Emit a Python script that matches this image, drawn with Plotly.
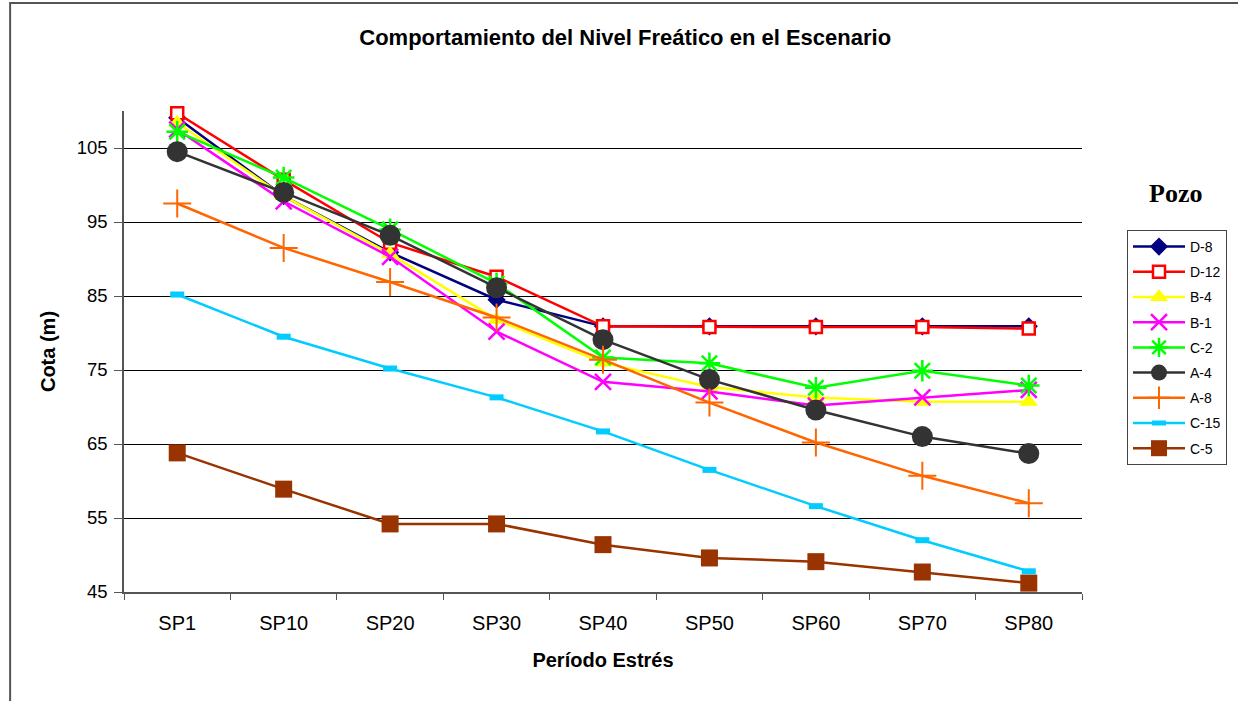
import plotly.graph_objects as go

periods = ["SP1", "SP10", "SP20", "SP30", "SP40", "SP50", "SP60", "SP70", "SP80"]

d8 = [109.1, 98.5, 90.9, 84.5, 80.9, 80.9, 80.9, 80.9, 80.9]
d12 = [109.7, 100.7, 92.2, 87.6, 80.9, 80.8, 80.8, 80.8, 80.6]
b4 = [108.4, 98.5, 90.7, 81.8, 76.0, 72.7, 71.3, 70.7, 70.7]
b1 = [107.5, 97.8, 90.3, 80.2, 73.4, 72.1, 70.2, 71.3, 72.3]
c2 = [107.2, 101.0, 94.0, 86.7, 76.7, 75.9, 72.6, 74.9, 72.9]
a4 = [104.5, 99.0, 93.2, 86.1, 79.1, 73.7, 69.6, 66.0, 63.7]
a8 = [97.5, 91.5, 86.9, 82.1, 76.4, 70.6, 65.2, 60.7, 57.0]
c15 = [85.2, 79.5, 75.2, 71.3, 66.7, 61.5, 56.6, 52.0, 47.8]
c5 = [63.8, 58.9, 54.2, 54.2, 51.4, 49.6, 49.1, 47.7, 46.2]

yticks = [45, 55, 65, 75, 85, 95, 105]

series = [
    ("D-8", d8, "#000080", dict(symbol="diamond", size=14, color="#000080")),
    ("D-12", d12, "#FF0000", dict(symbol="square", size=12, color="white",
                                  line=dict(color="#FF0000", width=2.5))),
    ("B-4", b4, "#FFFF00", dict(symbol="triangle-up", size=16, color="#FFFF00")),
    ("B-1", b1, "#FF00FF", dict(symbol="x-thin-open", size=16,
                                line=dict(color="#FF00FF", width=2.5))),
    ("C-2", c2, "#00FF00", dict(symbol="asterisk-open", size=18,
                                line=dict(color="#00FF00", width=2.5))),
    ("A-4", a4, "#333333", dict(symbol="circle", size=21, color="#333333")),
    ("A-8", a8, "#FF6600", dict(symbol="cross-thin-open", size=20,
                                line=dict(color="#FF6600", width=2))),
    ("C-15", c15, "#00CCFF", dict(symbol="line-ew-open", size=10,
                                  line=dict(color="#00CCFF", width=6))),
    ("C-5", c5, "#993300", dict(symbol="square", size=17, color="#993300")),
]

fig = go.Figure()
for name, vals, col, mk in series:
    fig.add_trace(go.Scatter(
        x=periods, y=vals, name=name, mode="lines+markers",
        line=dict(color=col, width=2.5), marker=mk, legendgroup=name,
        cliponaxis=False,
    ))

W, H = 1238, 701
L, R, T, B = 124, 155, 111, 109
pw, ph = W - L - R, H - T - B

def px_x(p):
    return (p - L) / pw

def px_y(p):
    return (H - B - p) / ph

fig.update_layout(
    width=W, height=H,
    margin=dict(l=L, r=R, t=T, b=B),
    paper_bgcolor="white", plot_bgcolor="white",
    font=dict(family="Liberation Sans, Arial, sans-serif", color="black"),
    title=dict(text="<b>Comportamiento del Nivel Freático en el Escenario</b>",
               x=0.505, xanchor="center", y=1 - 37 / H, yanchor="middle",
               font=dict(size=22)),
    showlegend=True,
    legend=dict(x=px_x(1127), y=px_y(230), xanchor="left", yanchor="top",
                bgcolor="white", bordercolor="#444444", borderwidth=1,
                font=dict(size=14), traceorder="grouped", tracegroupgap=4,
                itemwidth=52),
    xaxis=dict(
        title=dict(text="<b>Período Estrés</b>", font=dict(size=20), standoff=20),
        showline=True, linecolor="#555555", linewidth=1.5,
        ticks="outside", ticklen=6, tickcolor="#555555",
        tickson="boundaries", tickfont=dict(size=20), ticklabelstandoff=12,
        range=[-0.5, 8.5], showgrid=False, zeroline=False,
    ),
    yaxis=dict(
        title=dict(text="<b>Cota (m)</b>", font=dict(size=20), standoff=16),
        range=[45, 110], tickvals=yticks, ticktext=[str(v) for v in yticks],
        showline=True, linecolor="#555555", linewidth=1.5,
        ticks="outside", ticklen=8, tickcolor="#555555",
        tickfont=dict(size=18.5), ticklabelstandoff=3,
        showgrid=True, gridcolor="black", gridwidth=1, zeroline=False,
    ),
    shapes=[dict(type="rect", xref="paper", yref="paper",
                 x0=px_x(10), x1=px_x(1260), y0=px_y(720), y1=px_y(3),
                 line=dict(color="#555555", width=2), layer="below")],
    annotations=[dict(text="<b>Pozo</b>", xref="paper", yref="paper",
                      x=px_x(1177), y=px_y(193), xanchor="center", yanchor="middle",
                      showarrow=False,
                      font=dict(family="Liberation Serif, Times New Roman, serif",
                                size=26, color="black"))],
)

fig.write_html("out.html", config={"displayModeBar": False},
               post_script="document.body.style.margin='0';")
